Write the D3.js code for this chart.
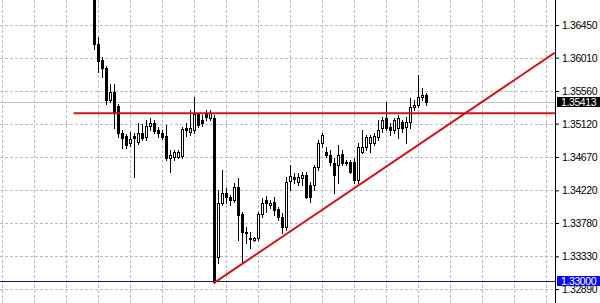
<!DOCTYPE html>
<html>
<head>
<meta charset="utf-8">
<script src="https://cdn.jsdelivr.net/npm/d3@7/dist/d3.min.js"></script>
<style>
  body { margin: 0; background: #fff; }
  svg { display: block; }
</style>
</head>
<body>
<div id="plotholder"></div>
<script>
// candle values, one entry per bar, oldest first
const OPEN = [
  1.3699, 1.3619, 1.3598, 1.3587, 1.3544, 1.3555, 1.3536, 1.3499, 1.3495, 1.3486,
  1.3495, 1.3487, 1.3499, 1.3494, 1.3509, 1.3513, 1.3503, 1.3499, 1.3495, 1.3466,
  1.3467, 1.3467, 1.3468, 1.3506, 1.3501, 1.3503, 1.3525, 1.3517, 1.3526, 1.3520,
  1.3520, 1.3332, 1.3405, 1.3418, 1.3413, 1.3409, 1.3427, 1.3390, 1.3366, 1.3358,
  1.3355, 1.3358, 1.3390, 1.3409, 1.3402, 1.3406, 1.3397, 1.3386, 1.3373, 1.3435,
  1.3440, 1.3433, 1.3439, 1.3443, 1.3429, 1.3429, 1.3454, 1.3486, 1.3474, 1.3470,
  1.3459, 1.3456, 1.3471, 1.3459, 1.3460, 1.3460, 1.3436, 1.3474, 1.3481, 1.3486,
  1.3486, 1.3494, 1.3506, 1.3520, 1.3507, 1.3503, 1.3506, 1.3514, 1.3507, 1.3514,
  1.3534, 1.3537, 1.3548, 1.3551,
]
const HIGH = [
  1.3712, 1.3629, 1.3602, 1.3590, 1.3565, 1.3565, 1.3539, 1.3503, 1.3498, 1.3501,
  1.3499, 1.3513, 1.3512, 1.3517, 1.3520, 1.3517, 1.3507, 1.3503, 1.3510, 1.3476,
  1.3476, 1.3476, 1.3507, 1.3513, 1.3530, 1.3548, 1.3526, 1.3523, 1.3530, 1.3530,
  1.3523, 1.3423, 1.3450, 1.3425, 1.3416, 1.3432, 1.3439, 1.3393, 1.3373, 1.3366,
  1.3359, 1.3393, 1.3412, 1.3415, 1.3409, 1.3413, 1.3400, 1.3392, 1.3440, 1.3456,
  1.3445, 1.3445, 1.3447, 1.3447, 1.3433, 1.3456, 1.3490, 1.3499, 1.3480, 1.3476,
  1.3466, 1.3483, 1.3476, 1.3463, 1.3463, 1.3466, 1.3486, 1.3503, 1.3497, 1.3497,
  1.3499, 1.3517, 1.3521, 1.3541, 1.3513, 1.3520, 1.3524, 1.3517, 1.3521, 1.3546,
  1.3544, 1.3578, 1.3560, 1.3553,
]
const LOW = [
  1.3613, 1.3582, 1.3575, 1.3539, 1.3541, 1.3506, 1.3494, 1.3479, 1.3479, 1.3482,
  1.3440, 1.3485, 1.3490, 1.3490, 1.3503, 1.3499, 1.3494, 1.3491, 1.3463, 1.3447,
  1.3463, 1.3466, 1.3466, 1.3495, 1.3497, 1.3499, 1.3507, 1.3509, 1.3517, 1.3517,
  1.3297, 1.3324, 1.3402, 1.3405, 1.3402, 1.3406, 1.3355, 1.3324, 1.3351, 1.3344,
  1.3354, 1.3355, 1.3386, 1.3393, 1.3398, 1.3389, 1.3382, 1.3365, 1.3369, 1.3422,
  1.3432, 1.3429, 1.3429, 1.3412, 1.3406, 1.3422, 1.3450, 1.3481, 1.3467, 1.3456,
  1.3418, 1.3432, 1.3456, 1.3456, 1.3445, 1.3432, 1.3432, 1.3473, 1.3476, 1.3474,
  1.3483, 1.3490, 1.3501, 1.3503, 1.3497, 1.3499, 1.3493, 1.3501, 1.3486, 1.3506,
  1.3530, 1.3534, 1.3544, 1.3537,
]
const CLOSE = [
  1.3619, 1.3596, 1.3587, 1.3544, 1.3555, 1.3528, 1.3499, 1.3493, 1.3483, 1.3491,
  1.3493, 1.3499, 1.3493, 1.3509, 1.3513, 1.3502, 1.3499, 1.3494, 1.3466, 1.3470,
  1.3474, 1.3474, 1.3505, 1.3503, 1.3506, 1.3525, 1.3510, 1.3513, 1.3521, 1.3526,
  1.3299, 1.3405, 1.3418, 1.3413, 1.3409, 1.3427, 1.3389, 1.3366, 1.3365, 1.3356,
  1.3358, 1.3390, 1.3405, 1.3405, 1.3405, 1.3396, 1.3386, 1.3373, 1.3433, 1.3441,
  1.3437, 1.3440, 1.3443, 1.3413, 1.3413, 1.3454, 1.3486, 1.3497, 1.3470, 1.3460,
  1.3443, 1.3470, 1.3459, 1.3460, 1.3447, 1.3436, 1.3481, 1.3481, 1.3494, 1.3494,
  1.3495, 1.3503, 1.3517, 1.3506, 1.3503, 1.3517, 1.3520, 1.3506, 1.3514, 1.3534,
  1.3537, 1.3548, 1.3551, 1.35413,
]

const PRICE_TICKS = [1.36450, 1.36010, 1.35560, 1.35120, 1.34670, 1.34220, 1.33780, 1.33330, 1.32890]

// drawn objects: [bar index, price]
const RESISTANCE = [[-5, 1.3526]]
const TRENDLINE = [[30, 1.3297], [72, 1.3450]]
const SUPPORT = 1.33000
const BID = 1.35413

const W = 600, H = 303, PLOTW = 555

const createscales = () => {
  /* bar index -> x, 4px per bar; price -> y */
  const xscale = d3.scaleLinear().domain([-23.4, 115.3]).range([0, PLOTW])
  const yscale = d3.scaleLinear().domain([1.32890, 1.36450]).range([289, 25])
  return { xscale, yscale }
}

const createsvg = (holderselector) => {
  const svg = d3.select(holderselector).append('svg')
    .attr('width', W)
    .attr('height', H)
    .style('background-color', '#fff')
  svg.append('defs').append('clipPath').attr('id', 'plotclip')
    .append('rect').attr('x', 0).attr('y', 0).attr('width', PLOTW).attr('height', H)
  return svg
}

const plotgrid = (svg, scales) => {
  const g = svg.append('g').attr('clip-path', 'url(#plotclip)')
  const cols = d3.range(-23, 116, 8)
  g.selectAll('line.vg').data(cols).enter().append('line')
    .attr('x1', d => Math.round(scales.xscale(d)) + 0.5)
    .attr('x2', d => Math.round(scales.xscale(d)) + 0.5)
    .attr('y1', 0).attr('y2', H)
    .attr('stroke', '#bdbdbd').attr('stroke-dasharray', '3,2')
  g.selectAll('line.hg').data(PRICE_TICKS).enter().append('line')
    .attr('x1', 0).attr('x2', PLOTW)
    .attr('y1', d => Math.round(scales.yscale(d)) + 0.5)
    .attr('y2', d => Math.round(scales.yscale(d)) + 0.5)
    .attr('stroke', '#bdbdbd').attr('stroke-dasharray', '3,2')
}

const plotlevels = (svg, scales) => {
  const g = svg.append('g').attr('clip-path', 'url(#plotclip)')
  const yb = Math.round(scales.yscale(BID)) + 0.5
  g.append('line').attr('x1', 0).attr('x2', PLOTW).attr('y1', yb).attr('y2', yb)
    .attr('stroke', '#c0c0c0')
  const ys = Math.round(scales.yscale(SUPPORT)) + 0.5
  g.append('line').attr('x1', 0).attr('x2', PLOTW).attr('y1', ys).attr('y2', ys)
    .attr('stroke', '#1c1c64')
}

const plotcandles = (svg, scales) => {
  const bars = OPEN.map((o, i) => ({ i, o, h: HIGH[i], l: LOW[i], c: CLOSE[i] }))
  const g = svg.append('g').attr('clip-path', 'url(#plotclip)')
  const cx = d => Math.round(scales.xscale(d.i))
  g.selectAll('line.wick').data(bars).enter().append('line')
    .attr('x1', d => cx(d) + 0.5).attr('x2', d => cx(d) + 0.5)
    .attr('y1', d => Math.round(scales.yscale(d.h)))
    .attr('y2', d => Math.round(scales.yscale(d.l)) + 1)
    .attr('stroke', '#000')
  g.selectAll('rect.body').data(bars).enter().append('rect')
    .attr('x', d => cx(d) - 0.5)
    .attr('y', d => Math.round(scales.yscale(Math.max(d.o, d.c))) + 0.5)
    .attr('width', 2)
    .attr('height', d => Math.max(1, Math.round(scales.yscale(Math.min(d.o, d.c))) - Math.round(scales.yscale(Math.max(d.o, d.c)))))
    .attr('fill', d => d.c >= d.o ? '#fff' : '#000')
    .attr('stroke', '#000')
}

const plotobjects = (svg, scales) => {
  const g = svg.append('g').attr('clip-path', 'url(#plotclip)')
  const red = '#c8161c'
  const [r0] = RESISTANCE
  const yr = scales.yscale(r0[1])
  g.append('line').attr('x1', scales.xscale(r0[0])).attr('x2', PLOTW)
    .attr('y1', yr).attr('y2', yr)
    .attr('stroke', red).attr('stroke-width', 2)
  const [a, b] = TRENDLINE
  const slope = (b[1] - a[1]) / (b[0] - a[0])
  const iend = scales.xscale.domain()[1]
  g.append('line')
    .attr('x1', scales.xscale(a[0])).attr('y1', scales.yscale(a[1]))
    .attr('x2', scales.xscale(iend)).attr('y2', scales.yscale(a[1] + slope * (iend - a[0])))
    .attr('stroke', red).attr('stroke-width', 2)
}

const plotaxis = (svg, scales) => {
  svg.append('line').attr('x1', PLOTW + 0.5).attr('x2', PLOTW + 0.5).attr('y1', 0).attr('y2', H)
    .attr('stroke', '#000')
  const axis = d3.axisRight(scales.yscale)
    .tickValues(PRICE_TICKS)
    .tickFormat(d3.format('.5f'))
    .tickSize(3)
    .tickPadding(3)
  const g = svg.append('g').attr('transform', `translate(${PLOTW + 1},0)`).call(axis)
  g.select('.domain').remove()
  g.selectAll('.tick line').attr('stroke', '#000')
  g.selectAll('.tick text')
    .attr('fill', '#000')
    .style('font-family', '"Liberation Sans", Arial, sans-serif')
    .style('font-size', '10.5px')
    .style('letter-spacing', '-0.4px')

  const tag = (price, bg) => {
    const y = Math.round(scales.yscale(price))
    svg.append('rect').attr('x', PLOTW + 2).attr('y', y - 5).attr('width', W - PLOTW - 2).attr('height', 10)
      .attr('fill', bg)
    svg.append('text').attr('x', PLOTW + 6).attr('y', y).attr('dy', '0.36em')
      .attr('fill', '#fff')
      .style('font-family', '"Liberation Sans", Arial, sans-serif')
      .style('font-size', '10.5px')
      .style('letter-spacing', '-0.4px')
      .text(d3.format('.5f')(price))
  }
  tag(BID, '#000')
  tag(SUPPORT, '#0a0af0')
}

const scales = createscales()
const svgelement = createsvg('#plotholder')
plotgrid(svgelement, scales)
plotlevels(svgelement, scales)
plotcandles(svgelement, scales)
plotobjects(svgelement, scales)
plotaxis(svgelement, scales)
</script>
</body>
</html>
